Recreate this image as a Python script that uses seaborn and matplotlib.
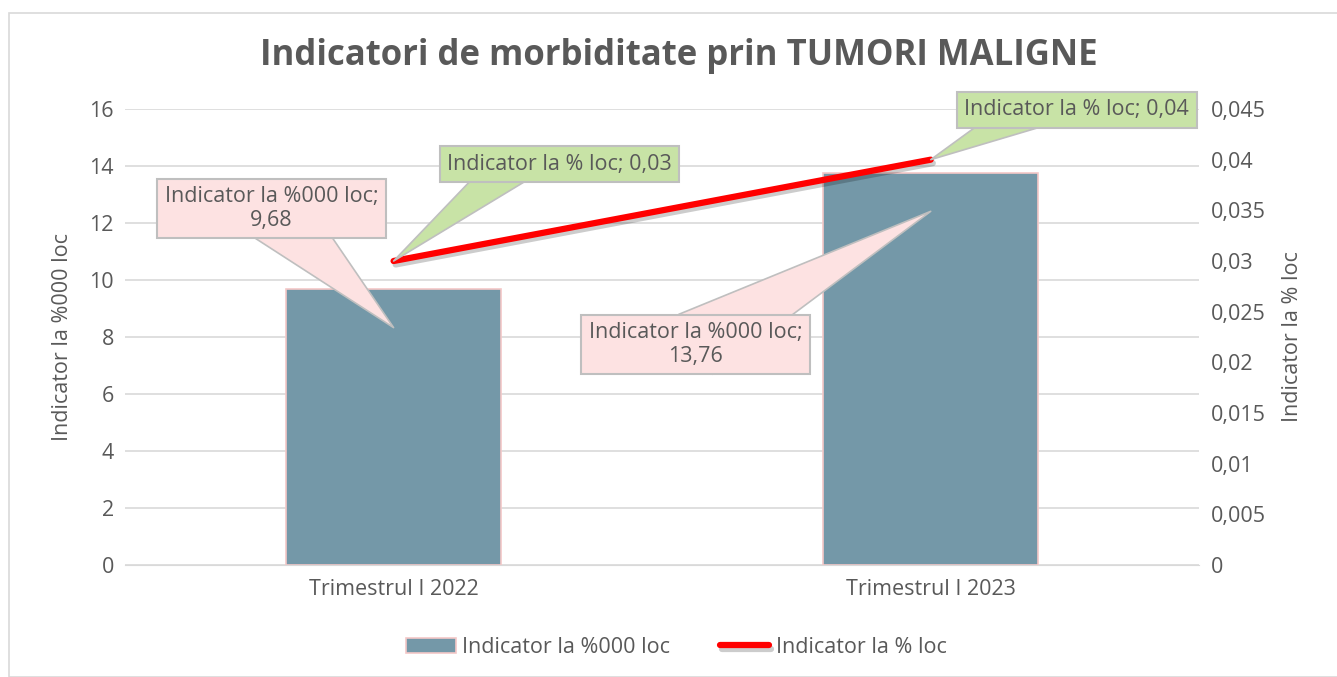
import numpy as np
import pandas as pd
import matplotlib.pyplot as plt
import matplotlib.patheffects as pe
import seaborn as sns
from matplotlib.patches import Rectangle
from matplotlib.ticker import FuncFormatter

## Data ##
categories = ['Trimestrul I 2022', 'Trimestrul I 2023']
ind_100k = [9.68, 13.76]    # Indicator la %000 loc
ind_pct = [0.03, 0.04]      # Indicator la % loc
lbl_100k = 'Indicator la %000 loc'
lbl_pct = 'Indicator la % loc'

df = pd.DataFrame({'cat': categories, 'v100k': ind_100k, 'vpct': ind_pct, 'pos': np.arange(len(categories))})

sns.set_style('white')
plt.rcParams['font.family'] = ['Open Sans', 'DejaVu Sans']
grey = '#595959'
fs = 15.5

fig = plt.figure(figsize=(13.37, 6.77), dpi=100)
ax = fig.add_axes([0.0935, 0.1654, 0.8035, 0.6736])
ax2 = ax.twinx()

# border of chart area
fig.patches.append(Rectangle((9 / 1337, 0.0), 1.0, 1 - 13 / 677, transform=fig.transFigure,
                             fill=False, ec='#d9d9d9', lw=1.2))

#Plotting
sns.barplot(data=df, x='cat', y='v100k', ax=ax, color='#7498a8', width=0.4,
            edgecolor='#f4c7c7', linewidth=1.2, saturation=1, label=lbl_100k, zorder=2)
sns.lineplot(data=df, x='pos', y='vpct', ax=ax2, color='#ff0000', linewidth=4.5, label=lbl_pct,
             solid_capstyle='round', zorder=3,
             path_effects=[pe.SimpleLineShadow(offset=(1.5, -2.5), alpha=0.2), pe.Normal()])

#Formatting
ax.set_xlim(-0.5, 1.5)
ax.set_ylim(0, 16)
ax.set_yticks(range(0, 17, 2))
ax2.set_ylim(0, 0.045)
ax2.set_yticks(np.arange(0, 0.0451, 0.005))
ax2.yaxis.set_major_formatter(FuncFormatter(lambda v, p: ('%g' % round(v, 3)).replace('.', ',')))
ax.yaxis.grid(True, color='#d9d9d9', lw=1.2, zorder=0)
ax.set_axisbelow(True)
for a in (ax, ax2):
    for s in a.spines.values():
        s.set_visible(False)
    a.tick_params(axis='both', length=0, labelsize=fs, labelcolor=grey, pad=8)
ax.spines['bottom'].set_visible(True)
ax.spines['bottom'].set_color('#d9d9d9')
ax.set_xlabel('')
ax.set_ylabel(lbl_100k, fontsize=fs, color=grey, labelpad=12)
ax2.set_ylabel(lbl_pct, fontsize=fs, color=grey, labelpad=12)
ax2.set_xlabel('')
ax.tick_params(axis='x', pad=10)

# callouts: wedge starts inside the box, box drawn over its wide end
def callout(a, xy, off, text, fc, tw, rel):
    a.annotate(text, xy=xy, xytext=off, textcoords='offset pixels', ha='center', va='center',
               fontsize=fs, color=grey, linespacing=1.15, zorder=5,
               bbox=dict(boxstyle='square,pad=0.35', fc=fc, ec='#bfbfbf', lw=1.5),
               arrowprops=dict(arrowstyle='wedge,tail_width=%s,shrink_factor=0.5' % tw, fc=fc,
                               ec='#bfbfbf', lw=1.2, shrinkA=0, shrinkB=0, patchA=None,
                               relpos=rel))

offs_bar = [(-122, 119), (-235, -133)]
offs_line = [(166, 97), (146, 50)]
tw_line = [1.9, 1.8]
for i in range(len(categories)):
    callout(ax, (i, ind_100k[i] - 1.35), offs_bar[i],
            '%s;\n%s' % (lbl_100k, ('%.2f' % ind_100k[i]).replace('.', ',')), '#fde2e2', 3.2, (0.5, 0.5))
    callout(ax2, (i, ind_pct[i]), offs_line[i],
            '%s; %s' % (lbl_pct, ('%.2f' % ind_pct[i]).replace('.', ',')), '#c8e3a6', tw_line[i], (0.3, 0.5))

# legend
h1, l1 = ax.get_legend_handles_labels()
h2, l2 = ax2.get_legend_handles_labels()
if ax2.get_legend():
    ax2.get_legend().remove()
if ax.get_legend():
    ax.get_legend().remove()
fig.legend(h1 + h2, l1 + l2, loc='center', bbox_to_anchor=(0.506, 0.044), ncol=2, frameon=False,
           fontsize=fs, labelcolor=grey, handlelength=2.3, handletextpad=0.3, columnspacing=2.3)

fig.suptitle('Indicatori de morbiditate prin TUMORI MALIGNE', fontsize=25, fontweight='bold',
             color=grey, x=0.5075, y=0.918, va='center')

plt.savefig('out.png', dpi=100)
